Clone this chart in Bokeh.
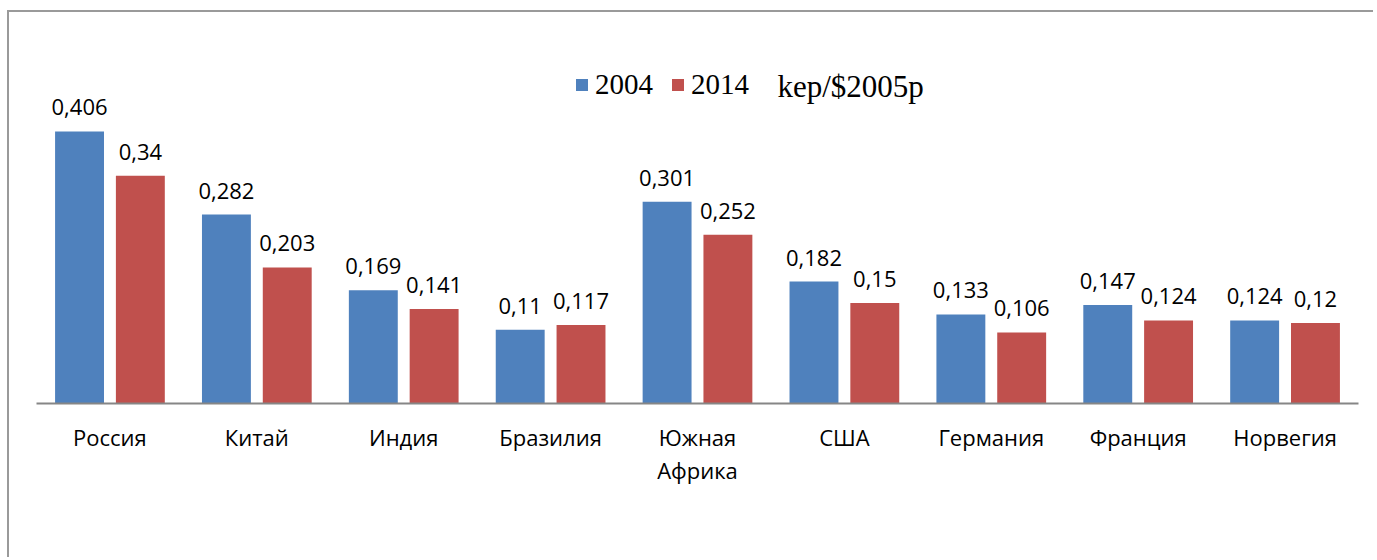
from bokeh.plotting import figure
from bokeh.models import ColumnDataSource, FactorRange, Range1d, Legend, LegendItem, Label
from bokeh.transform import dodge
from bokeh.core.properties import value
from bokeh.embed import file_html
from bokeh.resources import INLINE

categories = ["Россия", "Китай", "Индия", "Бразилия", "Южная\nАфрика", "США", "Германия", "Франция", "Норвегия"]
values_2004 = [0.406, 0.282, 0.169, 0.11, 0.301, 0.182, 0.133, 0.147, 0.124]
values_2014 = [0.34, 0.203, 0.141, 0.117, 0.252, 0.15, 0.106, 0.124, 0.12]
series_names = ["2004", "2014"]
unit_text = "kep/$2005p"

def fmt(v):
    return str(v).replace(".", ",")

src = ColumnDataSource(dict(
    cat=categories,
    v2004=values_2004,
    v2014=values_2014,
    l2004=[fmt(v) for v in values_2004],
    l2014=[fmt(v) for v in values_2014],
))

BLUE = "#4F81BD"
RED = "#C0504D"
LABEL_FONT = "Open Sans"

p = figure(
    x_range=FactorRange(*categories),
    y_range=Range1d(0, 0.5418),
    width=1366, height=547,
    output_backend="svg", toolbar_location=None,
    min_border_left=27, min_border_right=17, min_border_top=28, min_border_bottom=156,
    styles={"border-left": "2px solid #9a9a9a", "border-top": "2px solid #9a9a9a",
            "margin-left": "7px", "margin-top": "10px"},
)
p.outline_line_color = None
p.xgrid.visible = False
p.ygrid.visible = False
p.yaxis.visible = False

off = 0.207
w = 0.333
r1 = p.vbar(x=dodge("cat", -off, range=p.x_range), top="v2004", width=w, source=src,
            fill_color=BLUE, line_color=None)
r2 = p.vbar(x=dodge("cat", off, range=p.x_range), top="v2014", width=w, source=src,
            fill_color=RED, line_color=None)

for col, lab, dx in (("v2004", "l2004", -off), ("v2014", "l2014", off)):
    p.text(x=dodge("cat", dx, range=p.x_range), y=col, text=lab, source=src,
           text_align="center", text_baseline="alphabetic", y_offset=-24,
           text_font=value(LABEL_FONT), text_font_size="22px", text_color="black")

ax = p.xaxis[0]
ax.axis_line_color = "#868686"
ax.axis_line_width = 2
ax.major_tick_line_color = None
ax.minor_tick_line_color = None
ax.major_label_standoff = 12
ax.major_label_text_font = LABEL_FONT
ax.major_label_text_font_size = "22px"
ax.major_label_text_color = "black"
ax.major_label_text_line_height = 1.1

legend = Legend(
    items=[LegendItem(label=series_names[0], renderers=[r1]),
           LegendItem(label=series_names[1], renderers=[r2])],
    orientation="horizontal", location=(538, 302),
    label_text_font="Liberation Serif", label_text_font_size="29px",
    label_text_color="black",
    glyph_width=15, glyph_height=15, label_standoff=6, spacing=17,
    padding=0, margin=0, border_line_color=None, background_fill_alpha=0,
)
p.add_layout(legend)

p.add_layout(Label(x=741, x_units="screen", y=0.4731, text=unit_text,
                   text_font="Liberation Serif", text_font_size="31px",
                   text_baseline="alphabetic", text_color="black"))

open("out.html", "w").write(file_html(p, INLINE))
